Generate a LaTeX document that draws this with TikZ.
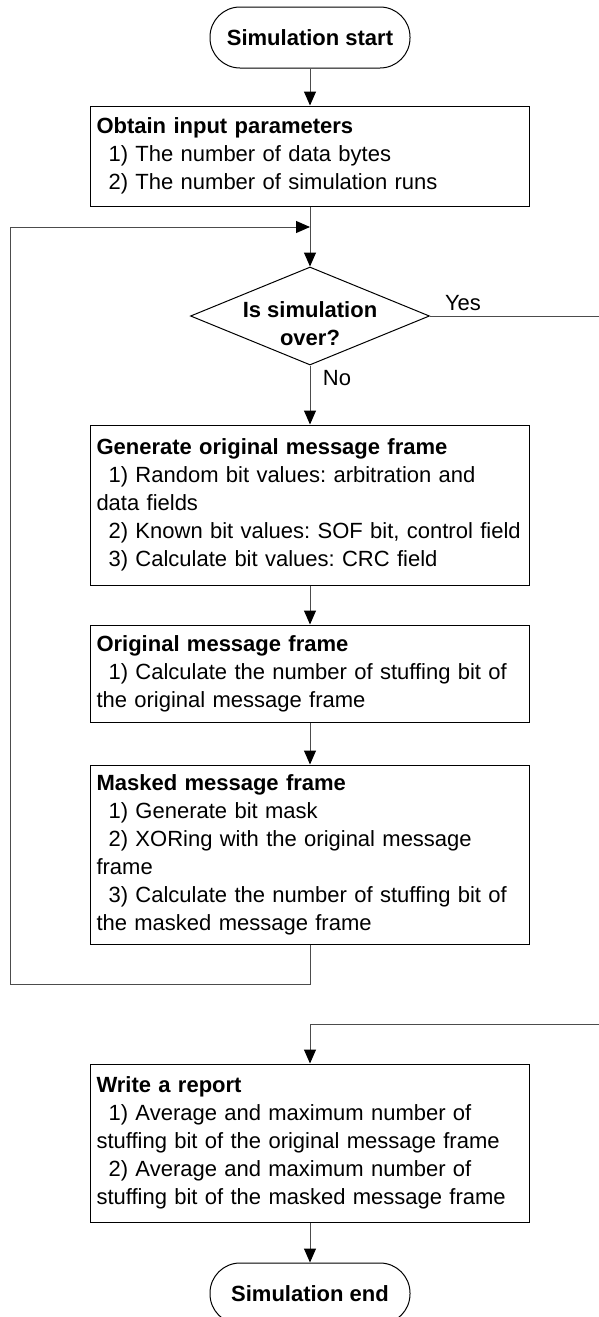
\documentclass[tikz,border=0pt]{standalone}
\usepackage{fontspec}
\setmainfont{Liberation Sans}
\frenchspacing
\usetikzlibrary{arrows.meta,shapes.geometric}
\newcommand{\boxfont}{\fontsize{22}{28}\selectfont}
\tikzset{
	terminal/.style={draw, line width=1pt, rounded corners=30pt, minimum width=200pt, minimum height=61pt, font=\boxfont\bfseries},
	procbox/.style={draw, line width=1pt, text width=427pt, inner xsep=6pt, inner ysep=0pt, align=left, font=\boxfont},
	decision/.style={draw, diamond, line width=1pt, minimum width=239pt, minimum height=98pt, inner sep=0pt},
	flow/.style={line width=1pt, black!70, -{Triangle[length=14pt,width=12pt,color=black]}},
	link/.style={line width=1pt, black!70}
}
\newcommand{\ind}{\hspace*{0.55em}}
\begin{document}
\begin{tikzpicture}[x=1pt, y=-1pt, font=\boxfont]
	\useasboundingbox (0,0) rectangle (599,1317);
	\node[terminal] (start)		at (310, 37.5)	{Simulation start};
	\node[procbox, minimum height=100pt] (params)	at (310, 156)
		{\textbf{Obtain input parameters}\\ \ind 1) The number of data bytes\\ \ind 2) The number of simulation runs};
	\node[decision] (over)		at (310, 316)	{};
	\node[font=\boxfont\bfseries, align=center] (overtext) at (310, 324) {Is simulation\\over?};
	\node (yes)			at (463, 303)	{Yes};
	\node (no)			at (337, 378)	{No};
	\node[procbox, minimum height=160pt] (generate)	at (310, 505)
		{\textbf{Generate original message frame}\\ \ind 1) Random bit values: arbitration and\\data fields\\ \ind 2) Known bit values: SOF bit, control field\\ \ind 3) Calculate bit values: CRC field};
	\node[procbox, minimum height=97pt] (original)	at (310, 673.5)
		{\textbf{Original message frame}\\ \ind 1) Calculate the number of stuffing bit of\\the original message frame};
	\node[procbox, minimum height=179pt] (masked)	at (310, 854.5)
		{\textbf{Masked message frame}\\ \ind 1) Generate bit mask\\ \ind 2) XORing with the original message\\frame\\ \ind 3) Calculate the number of stuffing bit of\\the masked message frame};
	\node[procbox, minimum height=158pt] (report)	at (310, 1143)
		{\textbf{Write a report}\\ \ind 1) Average and maximum number of\\stuffing bit of the original message frame\\ \ind 2) Average and maximum number of\\stuffing bit of the masked message frame};
	\node[terminal] (finish)	at (310, 1293.5)	{Simulation end};
	% loop and exit points
	\coordinate (merge)	at (310, 227);
	\coordinate (loopbr)	at (310, 984);
	\coordinate (loopbl)	at (10, 984);
	\coordinate (looptl)	at (10, 227);
	\coordinate (yesend)	at (599, 316);
	\coordinate (backin)	at (599, 1024);
	\coordinate (backturn)	at (310, 1024);
	\draw[flow] (start) -- (params);
	\draw[flow] (params) -- (over);
	\draw[link] (over) -- (yesend);
	\draw[flow] (over) -- (generate);
	\draw[flow] (generate) -- (original);
	\draw[flow] (original) -- (masked);
	\draw[flow] (masked) -- (loopbr) -- (loopbl) -- (looptl) -- (merge);
	\draw[flow] (backin) -- (backturn) -- (report);
	\draw[flow] (report) -- (finish);
\end{tikzpicture}
\end{document}
